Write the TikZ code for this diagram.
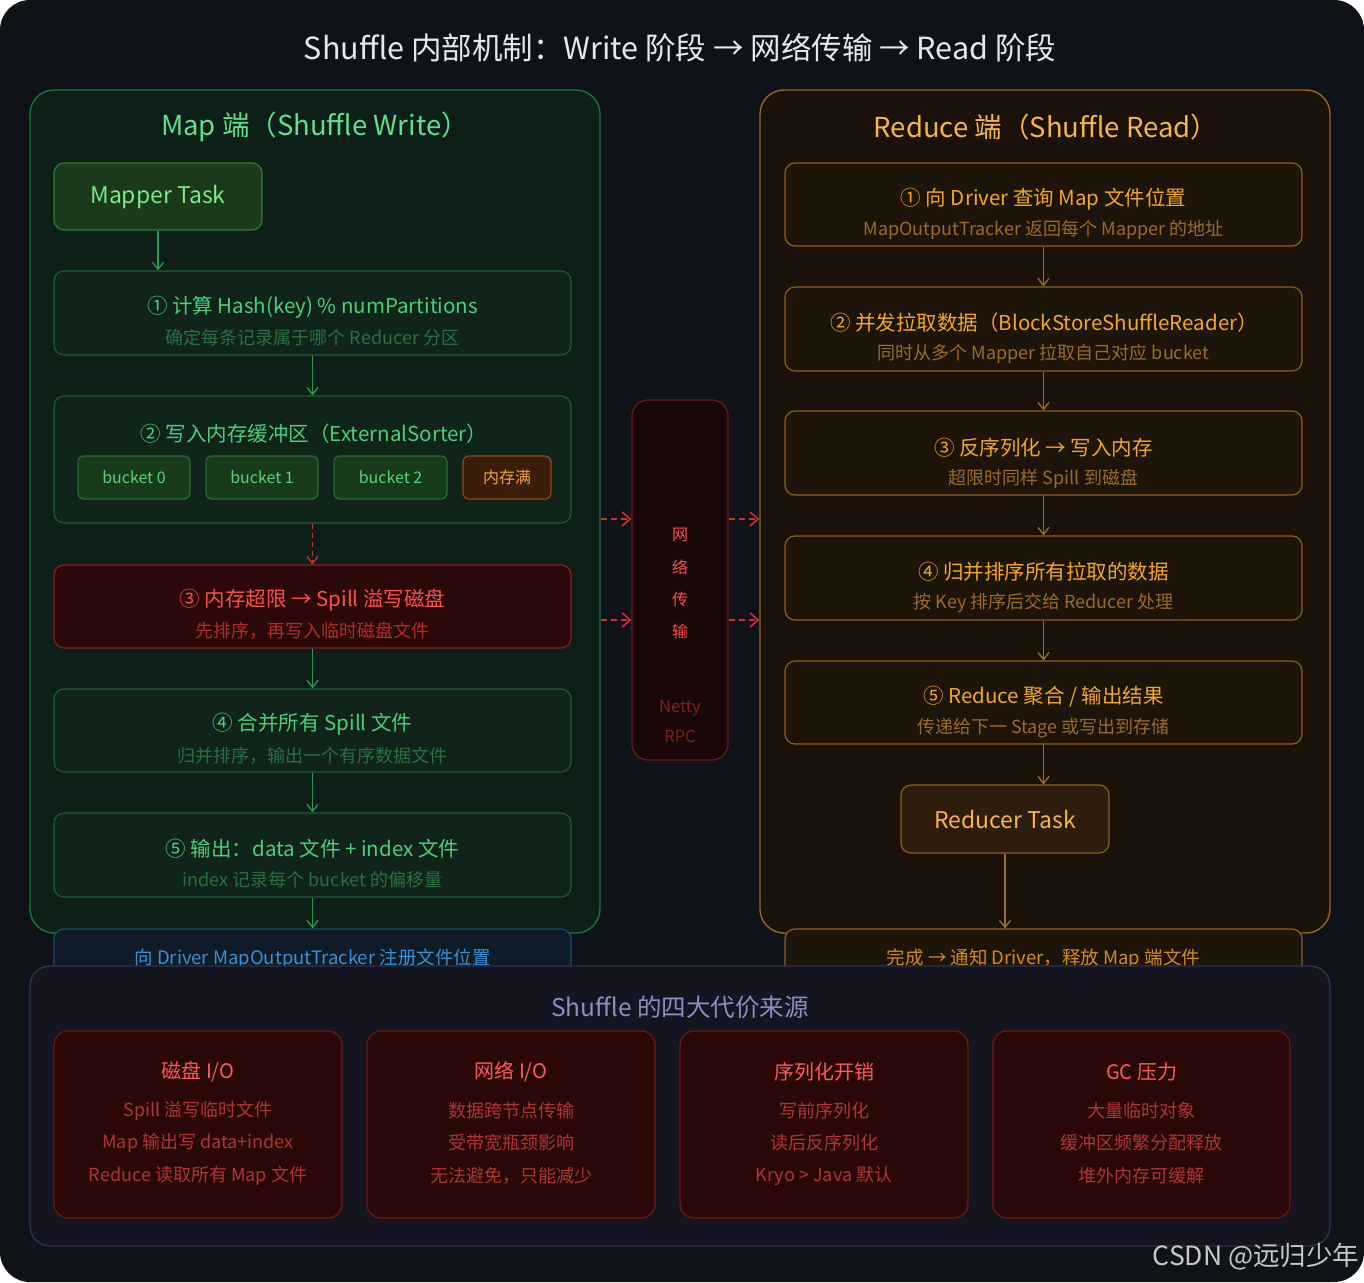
\documentclass[tikz,border=0pt]{standalone}
\usepackage{fontspec}
\setmainfont{Noto Sans CJK SC}
\usetikzlibrary{arrows.meta}
\definecolor{bgc}{HTML}{10121A}
\definecolor{mpfill}{HTML}{0D1F17}
\definecolor{mpdraw}{HTML}{1F7040}
\definecolor{mptitle}{HTML}{5FE08A}
\definecolor{gfill}{HTML}{10241A}
\definecolor{gdraw}{HTML}{1E5C30}
\definecolor{gtitle}{HTML}{4CCF78}
\definecolor{gsub}{HTML}{2A7040}
\definecolor{garrow}{HTML}{2A9A55}
\definecolor{tfill}{HTML}{1B3A1C}
\definecolor{tdraw}{HTML}{2E7D32}
\definecolor{ttext}{HTML}{7EE787}
\definecolor{bkfill}{HTML}{173A1B}
\definecolor{bkdraw}{HTML}{2A6E30}
\definecolor{bktext}{HTML}{5FD07A}
\definecolor{fullfill}{HTML}{3A1E0A}
\definecolor{fulldraw}{HTML}{8A4A1A}
\definecolor{fulltext}{HTML}{F5A040}
\definecolor{rfill}{HTML}{2B0909}
\definecolor{rdraw}{HTML}{8B1E1E}
\definecolor{rtitle}{HTML}{FF4F4F}
\definecolor{rsub}{HTML}{B52A2A}
\definecolor{rarrow}{HTML}{D03030}
\definecolor{bfill}{HTML}{0F1B26}
\definecolor{bdraw}{HTML}{1D4A66}
\definecolor{btext}{HTML}{3B8FD4}
\definecolor{rpfill}{HTML}{1A1209}
\definecolor{rpdraw}{HTML}{9A6620}
\definecolor{rptitle}{HTML}{F5B547}
\definecolor{ofill}{HTML}{1D140A}
\definecolor{odraw}{HTML}{8A6020}
\definecolor{otitle}{HTML}{F5A623}
\definecolor{osub}{HTML}{9A6B2B}
\definecolor{oarrow}{HTML}{9A7030}
\definecolor{otfill}{HTML}{2E1D0C}
\definecolor{nfill}{HTML}{1A0808}
\definecolor{ndraw}{HTML}{6B1A1A}
\definecolor{ntext}{HTML}{FF4D4D}
\definecolor{nsub}{HTML}{7A2020}
\definecolor{cpfill}{HTML}{141520}
\definecolor{cpdraw}{HTML}{2E3050}
\definecolor{cptitle}{HTML}{8A8FC0}
\definecolor{cfill}{HTML}{2A0808}
\definecolor{cdraw}{HTML}{6B1A1A}
\definecolor{ctitle}{HTML}{FF5A5A}
\definecolor{cline}{HTML}{B03535}
\definecolor{titlec}{HTML}{E6E8F0}
\definecolor{wmark}{HTML}{C8C8C8}
\begin{document}
\begin{tikzpicture}[x=1pt,y=-1pt,
  fs/.style={font=\fontsize{#1pt}{#1pt}\selectfont},
  panel/.style={rounded corners=24pt, line width=1.4pt, inner sep=0pt},
  boxs/.style={rounded corners=10pt, line width=1.2pt, inner sep=0pt},
  tip/.style={-{Straight Barb[length=7pt,width=11pt,line width=1.3pt]}},
  garr/.style={tip, draw=garrow, line width=1.4pt},
  oarr/.style={tip, draw=oarrow, line width=1.4pt},
  rdash/.style={-{Straight Barb[length=8pt,width=14pt,line width=1.6pt]}, draw=rarrow, line width=2pt, dash pattern=on 6pt off 4pt},
  gstep/.style={boxs, fill=gfill, draw=gdraw, minimum width=517pt},
  ostep/.style={boxs, fill=ofill, draw=odraw, minimum width=517pt},
  gt/.style={fs=20.5, text=gtitle},
  gs/.style={fs=18, text=gsub},
  ot/.style={fs=20.5, text=otitle},
  os/.style={fs=18, text=osub},
  bk/.style={boxs, rounded corners=6pt, fill=bkfill, draw=bkdraw, text=bktext, fs=16, minimum height=43pt},
  card/.style={boxs, rounded corners=14pt, fill=cfill, draw=cdraw, minimum height=187pt},
  ct/.style={fs=20, text=ctitle},
  cl/.style={fs=18, text=cline},
]
% background
\fill[white] (0,0) rectangle (1364,1282);
\fill[bgc, rounded corners=30pt] (0,0) rectangle (1364,1282);
\node[fs=30.5, text=titlec] (title) at (680,48) {Shuffle 内部机制：Write 阶段 → 网络传输 → Read 阶段};

% Map panel
\node[panel, fill=mpfill, draw=mpdraw, minimum width=570pt, minimum height=843pt] (mp) at (315,511.5) {};
\node[fs=27.5, text=mptitle] (mptitle) at (315,127) {Map 端（Shuffle Write）};
\node[boxs, fill=tfill, draw=tdraw, minimum width=208pt, minimum height=67pt, text=ttext, fs=23] (mt) at (158,196.5) {Mapper Task};

\node[gstep, minimum height=84pt] (m1) at (312.5,313) {};
\node[gt] (m1t) at (312.5,307) {① 计算 Hash(key) \% numPartitions};
\node[gs] (m1s) at (312.5,338) {确定每条记录属于哪个 Reducer 分区};

\node[gstep, minimum height=127pt] (m2) at (312.5,459.5) {};
\node[gt] (m2t) at (314,434) {② 写入内存缓冲区（ExternalSorter）};
\node[bk, minimum width=112pt] (b0) at (134,477.5) {bucket 0};
\node[bk, minimum width=112pt] (b1) at (262,477.5) {bucket 1};
\node[bk, minimum width=113pt] (b2) at (390.5,477.5) {bucket 2};
\node[bk, minimum width=88pt, fill=fullfill, draw=fulldraw, text=fulltext] (bf) at (507,477.5) {内存满};

\node[boxs, fill=rfill, draw=rdraw, minimum width=517pt, minimum height=83pt] (m3) at (312.5,606.5) {};
\node[fs=20.5, text=rtitle] (m3t) at (312.5,600) {③ 内存超限 → Spill 溢写磁盘};
\node[fs=18, text=rsub] (m3s) at (312.5,631) {先排序，再写入临时磁盘文件};

\node[gstep, minimum height=83pt] (m4) at (312.5,730.5) {};
\node[gt] (m4t) at (312.5,724) {④ 合并所有 Spill 文件};
\node[gs] (m4s) at (312.5,756) {归并排序，输出一个有序数据文件};

\node[gstep, minimum height=84pt] (m5) at (312.5,855) {};
\node[gt] (m5t) at (312.5,849) {⑤ 输出：data 文件 + index 文件};
\node[gs] (m5s) at (312.5,880) {index 记录每个 bucket 的偏移量};

\draw[garr] (mt.south) -- (mt.south |- m1.north);
\draw[garr] (m1.south) -- (m2.north);
\draw[tip, draw=rarrow, line width=1.4pt, dash pattern=on 5pt off 4pt] (m2.south) -- (m3.north);
\draw[garr] (m3.south) -- (m4.north);
\draw[garr] (m4.south) -- (m5.north);

% Reduce panel
\node[panel, fill=rpfill, draw=rpdraw, minimum width=570pt, minimum height=843pt] (rp) at (1045,511.5) {};
\node[fs=27.5, text=rptitle] (rptitle) at (1046,127) {Reduce 端（Shuffle Read）};

\node[ostep, minimum height=83pt] (r1) at (1043.5,204.5) {};
\node[ot] (r1t) at (1043.5,199) {① 向 Driver 查询 Map 文件位置};
\node[os] (r1s) at (1043.5,230) {MapOutputTracker 返回每个 Mapper 的地址};

\node[ostep, minimum height=84pt] (r2) at (1043.5,329) {};
\node[ot] (r2t) at (1044,323) {② 并发拉取数据（BlockStoreShuffleReader）};
\node[os] (r2s) at (1043.5,354) {同时从多个 Mapper 拉取自己对应 bucket};

\node[ostep, minimum height=84pt] (r3) at (1043.5,453) {};
\node[ot] (r3t) at (1043.5,448) {③ 反序列化 → 写入内存};
\node[os] (r3s) at (1043.5,479) {超限时同样 Spill 到磁盘};

\node[ostep, minimum height=84pt] (r4) at (1043.5,578) {};
\node[ot] (r4t) at (1043.5,572) {④ 归并排序所有拉取的数据};
\node[os] (r4s) at (1043.5,603) {按 Key 排序后交给 Reducer 处理};

\node[ostep, minimum height=83pt] (r5) at (1043.5,702.5) {};
\node[ot] (r5t) at (1043.5,697) {⑤ Reduce 聚合 / 输出结果};
\node[os] (r5s) at (1043.5,728) {传递给下一 Stage 或写出到存储};

\node[boxs, fill=otfill, draw=odraw, minimum width=208pt, minimum height=68pt, text=rptitle, fs=23] (rt) at (1005,819) {Reducer Task};

\draw[oarr] (r1.south) -- (r2.north);
\draw[oarr] (r2.south) -- (r3.north);
\draw[oarr] (r3.south) -- (r4.north);
\draw[oarr] (r4.south) -- (r5.north);
\draw[oarr] (r5.south) -- (r5.south |- rt.north);

% Network
\node[boxs, rounded corners=16pt, fill=nfill, draw=ndraw, minimum width=96pt, minimum height=360pt] (net) at (680,580) {};
\node[fs=16, text=ntext] (n1) at (680,535) {网};
\node[fs=16, text=ntext] (n2) at (680,567) {络};
\node[fs=16, text=ntext] (n3) at (680,599) {传};
\node[fs=16, text=ntext] (n4) at (680,631) {输};
\node[fs=16.5, text=nsub] (n5) at (680,708) {Netty};
\node[fs=16.5, text=nsub] (n6) at (680,736) {RPC};
\coordinate (ya) at (0,519);
\coordinate (yb) at (0,620);
\draw[rdash] (mp.east |- ya) -- (net.west |- ya);
\draw[rdash] (mp.east |- yb) -- (net.west |- yb);
\draw[rdash] (net.east |- ya) -- (rp.west |- ya);
\draw[rdash] (net.east |- yb) -- (rp.west |- yb);

% bottom boxes
\node[boxs, fill=bfill, draw=bdraw, minimum width=517pt, minimum height=71pt] (mb) at (312.5,964.5) {};
\node[fs=18.5, text=btext] (mbt) at (312.5,959) {向 Driver MapOutputTracker 注册文件位置};
\draw[garr] (m5.south) -- (mb.north);
\node[ostep, minimum height=71pt] (rb) at (1043.5,964.5) {};
\node[fs=18.5, text=otitle!85!black] (rbt) at (1043.5,959) {完成 → 通知 Driver，释放 Map 端文件};
\draw[oarr] (rt.south) -- (rt.south |- rb.north);

% Cost panel
\node[panel, rounded corners=20pt, fill=cpfill, draw=cpdraw, minimum width=1300pt, minimum height=280pt] (cp) at (680,1106) {};
\node[fs=24.5, text=cptitle] (cpt) at (680,1007) {Shuffle 的四大代价来源};

\node[card, minimum width=288pt] (c1) at (198,1124.5) {};
\node[ct] (c1t) at (198,1072) {磁盘 I/O};
\node[cl] (c1a) at (198,1111) {Spill 溢写临时文件};
\node[cl] (c1b) at (198,1143) {Map 输出写 data+index};
\node[cl] (c1c) at (198,1176) {Reduce 读取所有 Map 文件};

\node[card, minimum width=288pt] (c2) at (511,1124.5) {};
\node[ct] (c2t) at (511,1072) {网络 I/O};
\node[cl] (c2a) at (511,1111) {数据跨节点传输};
\node[cl] (c2b) at (511,1143) {受带宽瓶颈影响};
\node[cl] (c2c) at (511,1176) {无法避免，只能减少};

\node[card, minimum width=288pt] (c3) at (824,1124.5) {};
\node[ct] (c3t) at (824,1072) {序列化开销};
\node[cl] (c3a) at (824,1111) {写前序列化};
\node[cl] (c3b) at (824,1143) {读后反序列化};
\node[cl] (c3c) at (824,1176) {Kryo > Java 默认};

\node[card, minimum width=297pt] (c4) at (1141.5,1124.5) {};
\node[ct] (c4t) at (1141.5,1072) {GC 压力};
\node[cl] (c4a) at (1141.5,1111) {大量临时对象};
\node[cl] (c4b) at (1141.5,1143) {缓冲区频繁分配释放};
\node[cl] (c4c) at (1141.5,1176) {堆外内存可缓解};

\node[fs=26.5, text=wmark] (wm) at (1256,1257) {CSDN @远归少年};
\end{tikzpicture}
\end{document}
